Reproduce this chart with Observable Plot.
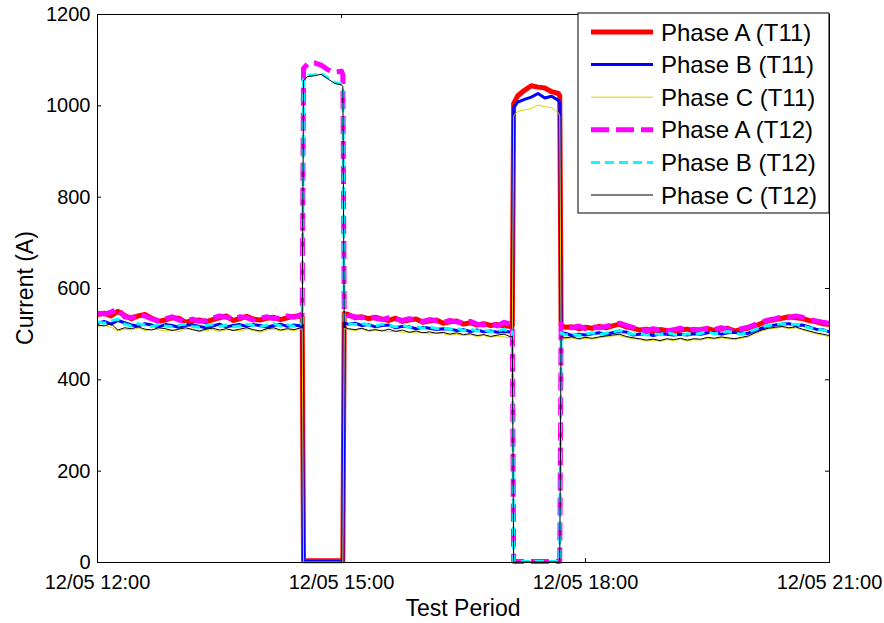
<!DOCTYPE html>
<html><head><meta charset="utf-8">
<script src="https://cdn.jsdelivr.net/npm/d3@7"></script>
<script src="https://cdn.jsdelivr.net/npm/@observablehq/plot@0.6"></script>
<style>body{margin:0;background:#fff;} #chart{position:relative;width:884px;height:623px;}</style>
</head><body><div id="chart"></div>
<script>
// time axis: minutes after 12/05 12:00
const minutes = [0,5,10,15,20,25,30,35,40,45,50,55,60,65,70,75,80,85,90,95,100,105,110,115,120,125,130,135,140,145,150,151,
152,155,160,165,170,175,180,181,
182,185,190,195,200,205,210,215,220,225,230,235,240,245,250,255,260,265,270,275,280,285,290,295,300,305,306,
307,310,315,320,325,330,335,340,341,
342,345,350,355,360,365,370,375,380,385,390,395,400,405,410,415,420,425,430,435,440,445,450,455,460,465,470,475,480,485,490,495,500,505,510,515,520,525,530,535,540];

const phaseA_T11 = [543,546,540,550,541,534,540,543,535,528,531,536,535,526,530,531,527,532,536,540,530,534,539,533,531,535,537,532,536,539,540,538,
4,4,4,4,4,4,4,4,
545,543,536,538,534,537,533,530,535,528,531,533,526,529,531,524,527,529,522,525,520,523,519,521,518,517,519,
1005,1022,1034,1044,1041,1039,1031,1027,1022,
519,515,516,512,515,513,517,514,518,522,516,513,509,511,506,510,508,505,509,511,507,510,512,508,511,513,507,510,513,518,524,529,532,535,538,536,534,530,527,523,521];

const phaseB_T11 = [524,528,522,530,525,520,518,523,520,516,521,519,515,519,521,517,514,518,522,516,519,521,517,521,519,515,519,522,517,520,518,521,
2,2,2,2,2,2,2,2,
524,522,524,519,521,516,519,520,514,517,516,512,515,513,510,512,511,508,510,506,509,505,507,504,506,505,503,
996,1008,1014,1019,1027,1017,1021,1012,1008,
500,502,497,500,498,501,503,500,503,506,505,498,500,501,497,501,500,498,500,498,501,500,503,504,500,503,504,501,502,508,513,518,520,522,523,519,520,516,511,510,505];

const phaseC_T11 = [517,520,515,507,511,509,513,508,511,510,507,509,506,511,512,505,508,510,506,510,509,507,511,508,504,509,511,507,510,508,511,512,
1,1,1,1,1,1,1,1,
513,510,508,511,506,508,509,505,507,504,505,502,504,500,503,501,498,500,497,499,495,497,493,496,494,492,493,
978,988,991,994,1002,998,996,985,978,
493,490,492,488,491,489,492,494,496,497,493,490,488,485,487,484,488,486,489,485,488,487,491,489,492,490,488,491,494,501,507,511,513,515,512,514,509,505,501,498,494];

const phaseA_T12 = [546,544,548,556,538,536,542,540,533,530,534,538,531,529,533,528,530,535,540,537,533,538,536,531,535,538,534,536,540,537,543,545,
1082,1092,1094,1089,1079,1073,1076,1068,
548,541,538,536,539,535,532,536,533,530,534,531,528,532,529,526,530,527,524,528,522,520,524,518,526,522,520,
2,2,2,2,2,2,2,2,2,
522,517,514,518,512,516,514,517,521,524,519,515,511,508,512,509,507,510,513,508,511,509,513,510,514,511,508,512,515,521,527,531,534,538,536,540,537,532,529,526,524];

const phaseB_T12 = [527,524,529,533,522,518,523,520,517,521,518,516,520,522,517,515,519,521,517,520,516,518,522,519,516,520,523,518,521,517,522,524,
1058,1066,1068,1071,1061,1051,1048,1044,
526,523,521,524,520,518,522,519,516,519,515,517,513,516,512,514,510,513,508,511,507,509,505,507,511,503,505,
2,2,2,2,2,2,2,2,2,
503,498,501,497,500,503,499,502,505,508,503,500,502,498,501,499,503,500,497,501,499,502,505,501,503,506,502,500,504,510,516,519,521,523,520,522,518,514,512,509,507];

const phaseC_T12 = [520,518,523,509,514,512,516,511,509,514,512,508,511,514,510,507,511,513,509,512,508,511,514,510,507,512,514,509,512,510,514,516,
1056,1064,1066,1069,1059,1049,1046,1042,
515,512,510,513,508,510,507,511,506,509,504,507,503,505,502,504,500,503,499,501,497,499,495,498,500,494,496,
1,1,1,1,1,1,1,1,1,
495,492,494,490,493,491,494,496,498,500,495,492,490,487,489,486,490,488,491,487,490,489,493,491,494,492,490,493,496,503,509,513,515,517,514,516,511,507,503,500,497];

const seriesNames = ["Phase A (T11)","Phase B (T11)","Phase C (T11)","Phase A (T12)","Phase B (T12)","Phase C (T12)"];
const seriesValues = [phaseA_T11, phaseB_T11, phaseC_T11, phaseA_T12, phaseB_T12, phaseC_T12];

const xTickValues = [0, 180, 360, 540];
const xTickLabels = ["12/05 12:00","12/05 15:00","12/05 18:00","12/05 21:00"];
const yTickValues = [0, 200, 400, 600, 800, 1000, 1200];
const xLabel = "Test Period";
const yLabel = "Current (A)";

// styles (kept separate from data)
const styles = [
  {stroke: "#ff0000", strokeWidth: 5, dash: null},
  {stroke: "#0000ff", strokeWidth: 3, dash: null},
  {stroke: "#d6d600", strokeWidth: 1, dash: null},
  {stroke: "#ff00ff", strokeWidth: 5, dash: "18,7"},
  {stroke: "#00ffff", strokeWidth: 3, dash: "9,5"},
  {stroke: "#000000", strokeWidth: 1, dash: null}
];

seriesValues.forEach((s, i) => { if (s.length !== minutes.length) console.error("length mismatch", seriesNames[i], s.length, minutes.length); });

const W = 884, H = 623, mL = 97, mR = 55, mT = 14, mB = 61;
const frameW = W - mL - mR, frameH = H - mT - mB;
const tick = 4;

const lineMarks = seriesValues.map((vals, i) => {
  const rows = minutes.map((m, j) => ({m, v: vals[j]}));
  const st = styles[i];
  return Plot.line(rows, {x: "m", y: "v", stroke: st.stroke, strokeWidth: st.strokeWidth,
    strokeDasharray: st.dash || undefined, strokeLinejoin: "round", strokeLinecap: "butt"});
});

const plot = Plot.plot({
  width: W, height: H, marginLeft: mL, marginRight: mR, marginTop: mT, marginBottom: mB,
  style: {fontFamily: "'Liberation Sans', Arial, sans-serif", fontSize: "20px", background: "#fff", color: "#000"},
  x: {domain: [0, 540]},
  y: {domain: [0, 1200]},
  marks: [
    Plot.axisX({ticks: xTickValues, tickFormat: d => xTickLabels[xTickValues.indexOf(d)], tickSize: 0, tickPadding: 12, label: null}),
    Plot.axisY({ticks: yTickValues, tickFormat: d => String(d), tickSize: 0, tickPadding: 7, label: null}),
    ...lineMarks,
    Plot.frame({stroke: "#000", strokeWidth: 1}),
    Plot.tickY(yTickValues, {y: d => d, insetRight: frameW - tick, stroke: "#000"}),
    Plot.tickY(yTickValues, {y: d => d, insetLeft: frameW - tick, stroke: "#000"}),
    Plot.tickX(xTickValues, {x: d => d, insetTop: frameH - tick, stroke: "#000"}),
    Plot.tickX(xTickValues, {x: d => d, insetBottom: frameH - tick, stroke: "#000"})
  ]
});
document.getElementById("chart").appendChild(plot);

const svg = d3.select(plot);
const font = "'Liberation Sans', Arial, sans-serif";
svg.append("text").attr("transform", "translate(33,288) rotate(-90)").attr("text-anchor", "middle")
  .attr("font-family", font).attr("font-size", 23).attr("fill", "#000").text(yLabel);
svg.append("text").attr("x", 463).attr("y", 616).attr("text-anchor", "middle")
  .attr("font-family", font).attr("font-size", 23).attr("fill", "#000").text(xLabel);

// legend box inside the plot area (top-right)
const lg = svg.append("g");
lg.append("rect").attr("x", 578).attr("y", 13).attr("width", 251).attr("height", 200)
  .attr("fill", "#fff").attr("stroke", "#000").attr("stroke-width", 1);
seriesNames.forEach((name, i) => {
  const yy = 32 + i * 32.6;
  const st = styles[i];
  lg.append("line").attr("x1", 591).attr("x2", 653).attr("y1", yy).attr("y2", yy)
    .attr("stroke", st.stroke).attr("stroke-width", st.strokeWidth)
    .attr("stroke-dasharray", st.dash);
  lg.append("text").attr("x", 661).attr("y", yy).attr("dy", "0.36em").attr("text-anchor", "start")
    .attr("font-family", font).attr("font-size", 24).attr("fill", "#000").text(name);
});
</script>
</body></html>
